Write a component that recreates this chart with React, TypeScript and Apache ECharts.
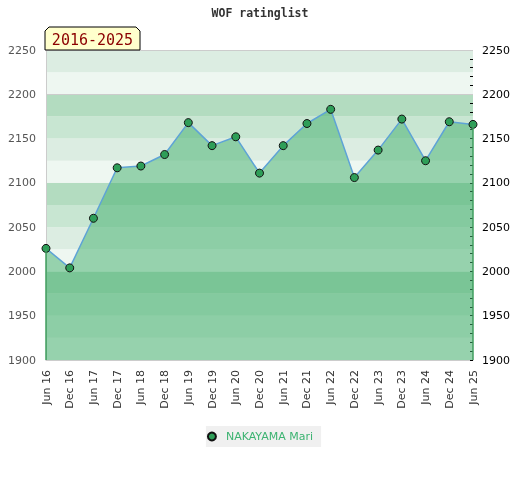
import React, { useEffect, useRef } from "react";
import * as echarts from "echarts";

const categories = [
  "Jun 16", "Dec 16", "Jun 17", "Dec 17", "Jun 18", "Dec 18", "Jun 19", "Dec 19",
  "Jun 20", "Dec 20", "Jun 21", "Dec 21", "Jun 22", "Dec 22", "Jun 23", "Dec 23",
  "Jun 24", "Dec 24", "Jun 25",
];
const ratings = [
  2026, 2004, 2060, 2117, 2119, 2132, 2168, 2142, 2152, 2111, 2142, 2167, 2183,
  2106, 2137, 2172, 2125, 2169, 2166,
];
const seriesName = "NAKAYAMA Mari";
const titleText = "WOF ratinglist";
const periodText = "2016-2025";
const yMin = 1900;
const yMax = 2250;
const highlightLines = [2200, 2250];
const bandColors = ["#eef7f1", "#dcede2", "#c8e6d2", "#b3dcc0"];

export default function App() {
  const ref = useRef<HTMLDivElement>(null);
  useEffect(() => {
    if (!ref.current) return;
    const chart = echarts.init(ref.current, null, { renderer: "svg" });
    const last = categories.length - 1;
    const edgeStyle = { color: "#3f9e5e", width: 1.5, type: "solid" as const };
    chart.setOption({
      animation: false,
      title: {
        text: titleText,
        left: "center",
        top: 2,
        textStyle: {
          fontFamily: "DejaVu Sans Mono",
          fontWeight: "bold",
          fontSize: 11.5,
          color: "#333",
        },
      },
      graphic: [
        {
          type: "polygon",
          shape: {
            points: [[45, 50], [45, 31], [49, 27], [136, 27], [140, 31], [140, 50]],
          },
          style: { fill: "#ffffcc", stroke: "#000", lineWidth: 1 },
          z: 10,
        },
        {
          type: "text",
          x: 92.5,
          y: 39.5,
          style: {
            text: periodText,
            fill: "#8b0000",
            font: "15px 'DejaVu Sans Mono'",
            textAlign: "center",
            textVerticalAlign: "middle",
          },
          z: 11,
        },
      ],
      legend: {
        bottom: 33,
        left: "center",
        backgroundColor: "#f0f0f0",
        padding: [5, 8, 5, 1],
        itemWidth: 18,
        itemHeight: 8,
        icon: "circle",
        textStyle: { color: "#3cb371", fontSize: 11, fontFamily: "DejaVu Sans" },
        data: [seriesName],
      },
      grid: { left: 46, right: 47, top: 50, bottom: 120 },
      xAxis: {
        type: "category",
        data: categories,
        boundaryGap: false,
        axisLine: { show: true, lineStyle: { color: "#cccccc" } },
        axisTick: { show: false },
        axisLabel: {
          rotate: 90,
          interval: 0,
          color: "#333",
          fontSize: 11,
          fontFamily: "DejaVu Sans",
          margin: 10,
        },
      },
      yAxis: [
        {
          type: "value",
          min: yMin,
          max: yMax,
          interval: 25,
          position: "left",
          axisLine: { show: true, lineStyle: { color: "#cccccc" } },
          axisTick: { show: false },
          splitLine: { show: false },
          splitArea: { show: true, areaStyle: { color: bandColors, opacity: 1 } },
          axisLabel: {
            color: "#555",
            fontSize: 11,
            fontFamily: "DejaVu Sans",
            margin: 10,
            formatter: (v: number) => (v % 50 === 0 ? String(v) : ""),
          },
        },
        {
          type: "value",
          min: yMin,
          max: yMax,
          interval: 50,
          position: "right",
          axisLine: { show: false },
          axisTick: { show: true, inside: true, length: 3, lineStyle: { color: "#000" } },
          minorTick: { show: true, splitNumber: 5, length: 3, lineStyle: { color: "#000" } },
          splitLine: { show: false },
          axisLabel: {
            color: "#000",
            fontSize: 11,
            fontFamily: "DejaVu Sans",
            margin: 9,
            formatter: (v: number) => String(v),
          },
        },
      ],
      series: [
        {
          name: seriesName,
          type: "line",
          data: ratings,
          symbol: "circle",
          symbolSize: 8,
          itemStyle: { color: "#2e9e58", borderColor: "#111", borderWidth: 1 },
          lineStyle: { color: "#5ea3d6", width: 1.5 },
          areaStyle: { color: "rgba(72,177,113,0.53)", opacity: 1, origin: "start" },
          markLine: {
            silent: true,
            symbol: "none",
            label: { show: false },
            data: [
              ...highlightLines.map((v) => ({
                yAxis: v,
                lineStyle: { color: "#cccccc", width: 1, type: "solid" as const },
              })),
              [
                { coord: [categories[0], yMin], lineStyle: edgeStyle },
                { coord: [categories[0], ratings[0]] },
              ],
              [
                { coord: [categories[last], yMin], lineStyle: edgeStyle },
                { coord: [categories[last], ratings[last]] },
              ],
            ],
          },
        },
      ],
    });
    return () => chart.dispose();
  }, []);
  return (
    <div
      ref={ref}
      style={{ position: "fixed", left: 0, top: 0, width: 520, height: 480 }}
    />
  );
}
